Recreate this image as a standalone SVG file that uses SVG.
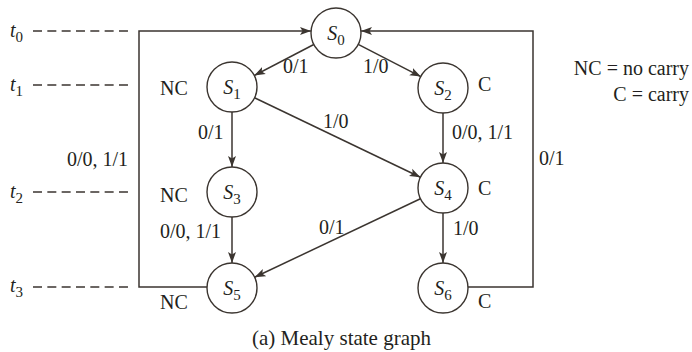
<svg xmlns="http://www.w3.org/2000/svg" width="692" height="352" viewBox="0 0 692 352">
<style>
text{font-family:"Liberation Serif","Times New Roman",serif;font-size:20px;fill:#231f20}
.it{font-style:italic}
.sub{font-size:15px;font-style:normal}
.st{fill:#fff;stroke:#3b3530;stroke-width:1.4}
.e{fill:none;stroke:#3b3530;stroke-width:1.5}
.d{fill:none;stroke:#3b3530;stroke-width:1.4;stroke-dasharray:9 5.33}
</style>
<defs>
<marker id="ar" markerUnits="userSpaceOnUse" markerWidth="12" markerHeight="10" viewBox="0 0 12 10" refX="11" refY="5" orient="auto">
<path d="M0,1 L11,5 L0,9 L2.5,5 Z" fill="#3b3530"/>
</marker>
</defs>
<g id="timeline">
<text x="10" y="37" class="it">t<tspan class="sub" dy="5">0</tspan></text>
<text x="10" y="91" class="it">t<tspan class="sub" dy="5">1</tspan></text>
<text x="10" y="198" class="it">t<tspan class="sub" dy="5">2</tspan></text>
<text x="10" y="292" class="it">t<tspan class="sub" dy="5">3</tspan></text>
<line class="d" x1="33" y1="31" x2="128" y2="31"/>
<line class="d" x1="33" y1="85" x2="128" y2="85"/>
<line class="d" x1="33" y1="192" x2="128" y2="192"/>
<line class="d" x1="33" y1="287" x2="128" y2="287"/>
</g>
<g id="connectors">
<polyline class="e" points="207,287 139,287 139,31 311,31" marker-end="url(#ar)"/>
<polyline class="e" points="468,287 533,287 533,31 361,31" marker-end="url(#ar)"/>
<line class="e" x1="313.8" y1="44.5" x2="254.2" y2="75.5" marker-end="url(#ar)"/>
<line class="e" x1="358.2" y1="44.4" x2="420.8" y2="76.6" marker-end="url(#ar)"/>
<line class="e" x1="232" y1="112" x2="232" y2="167" marker-end="url(#ar)"/>
<line class="e" x1="254.5" y1="97.8" x2="420.4" y2="177.2" marker-end="url(#ar)"/>
<line class="e" x1="443" y1="113" x2="443" y2="163" marker-end="url(#ar)"/>
<line class="e" x1="232" y1="217" x2="232" y2="263" marker-end="url(#ar)"/>
<line class="e" x1="420.4" y1="198.7" x2="254.6" y2="277.3" marker-end="url(#ar)"/>
<line class="e" x1="443" y1="213" x2="443" y2="263" marker-end="url(#ar)"/>
<text x="283" y="73">0/1</text>
<text x="363" y="73">1/0</text>
<text x="198" y="139">0/1</text>
<text x="67" y="166">0/0, 1/1</text>
<text x="323" y="128">1/0</text>
<text x="452" y="139">0/0, 1/1</text>
<text x="539" y="165">0/1</text>
<text x="160" y="238">0/0, 1/1</text>
<text x="319" y="234">0/1</text>
<text x="453" y="235">1/0</text>
</g>
<g id="S0"><circle class="st" cx="336" cy="33" r="25"/><text x="336" y="40" text-anchor="middle" class="it">S<tspan class="sub" dy="5">0</tspan></text></g>
<g id="S1"><circle class="st" cx="232" cy="87" r="25"/><text x="232" y="94" text-anchor="middle" class="it">S<tspan class="sub" dy="5">1</tspan></text><text x="160" y="95">NC</text></g>
<g id="S2"><circle class="st" cx="443" cy="88" r="25"/><text x="443" y="95" text-anchor="middle" class="it">S<tspan class="sub" dy="5">2</tspan></text><text x="478" y="91">C</text></g>
<g id="S3"><circle class="st" cx="232" cy="192" r="25"/><text x="232" y="199" text-anchor="middle" class="it">S<tspan class="sub" dy="5">3</tspan></text><text x="160" y="202">NC</text></g>
<g id="S4"><circle class="st" cx="443" cy="188" r="25"/><text x="443" y="195" text-anchor="middle" class="it">S<tspan class="sub" dy="5">4</tspan></text><text x="478" y="195">C</text></g>
<g id="S5"><circle class="st" cx="232" cy="288" r="25"/><text x="232" y="295" text-anchor="middle" class="it">S<tspan class="sub" dy="5">5</tspan></text><text x="160" y="309">NC</text></g>
<g id="S6"><circle class="st" cx="443" cy="288" r="25"/><text x="443" y="295" text-anchor="middle" class="it">S<tspan class="sub" dy="5">6</tspan></text><text x="478" y="308">C</text></g>
<g id="legend">
<text x="689" y="75" text-anchor="end">NC = no carry</text>
<text x="689" y="101" text-anchor="end">C = carry</text>
</g>
<text x="252" y="345" style="font-size:21px">(a) Mealy state graph</text>
</svg>
